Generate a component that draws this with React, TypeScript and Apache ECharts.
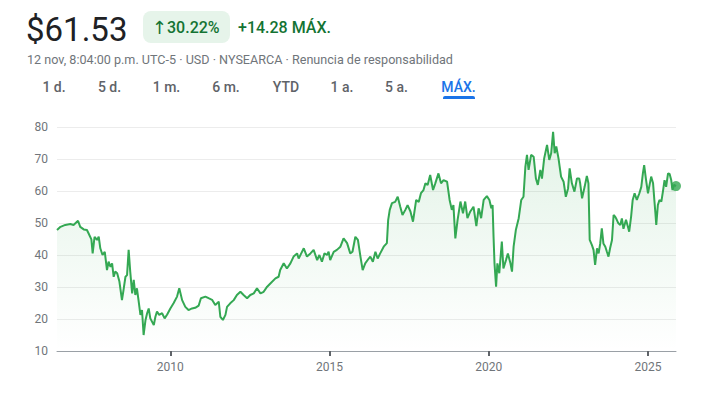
import React, { useEffect, useRef } from "react";
import * as echarts from "echarts";

// Time (decimal years) and closing prices
const years = [
  2006.44, 2006.55, 2006.7, 2006.86, 2006.96, 2007.1, 2007.17, 2007.28, 2007.38, 2007.43,
  2007.52, 2007.56, 2007.62, 2007.7, 2007.75, 2007.8, 2007.87, 2007.94, 2008.01, 2008.06,
  2008.12, 2008.17, 2008.22, 2008.27, 2008.33, 2008.4, 2008.48, 2008.53, 2008.59, 2008.64,
  2008.69, 2008.74, 2008.8, 2008.85, 2008.9, 2008.95, 2009.0, 2009.06, 2009.11, 2009.16,
  2009.22, 2009.27, 2009.32, 2009.37, 2009.48, 2009.53, 2009.58, 2009.65, 2009.74, 2009.82,
  2009.9, 2010.0, 2010.1, 2010.21, 2010.28, 2010.37, 2010.47, 2010.57, 2010.68, 2010.78,
  2010.89, 2010.96, 2011.1, 2011.2, 2011.31, 2011.41, 2011.52, 2011.57, 2011.65, 2011.73,
  2011.78, 2011.88, 2011.99, 2012.09, 2012.2, 2012.3, 2012.41, 2012.51, 2012.62, 2012.72,
  2012.83, 2012.93, 2013.04, 2013.14, 2013.3, 2013.4, 2013.45, 2013.56, 2013.66, 2013.77,
  2013.87, 2013.98, 2014.03, 2014.11, 2014.19, 2014.29, 2014.4, 2014.5, 2014.61, 2014.68,
  2014.76, 2014.84, 2014.92, 2014.97, 2015.02, 2015.13, 2015.23, 2015.34, 2015.44, 2015.55,
  2015.65, 2015.72, 2015.81, 2015.89, 2015.97, 2016.04, 2016.12, 2016.23, 2016.28, 2016.36,
  2016.44, 2016.51, 2016.59, 2016.7, 2016.8, 2016.84, 2016.89, 2016.96, 2017.06, 2017.14,
  2017.22, 2017.29, 2017.38, 2017.45, 2017.54, 2017.62, 2017.72, 2017.8, 2017.87, 2017.95,
  2018.01, 2018.08, 2018.16, 2018.25, 2018.32, 2018.42, 2018.5, 2018.58, 2018.69, 2018.77,
  2018.84, 2018.89, 2018.95, 2019.02, 2019.11, 2019.19, 2019.26, 2019.33, 2019.42, 2019.52,
  2019.61, 2019.68, 2019.7, 2019.76, 2019.84, 2019.94, 2020.02, 2020.08, 2020.12, 2020.15,
  2020.18, 2020.23, 2020.27, 2020.33, 2020.41, 2020.46, 2020.54, 2020.6, 2020.68, 2020.73,
  2020.78, 2020.85, 2020.94, 2021.02, 2021.09, 2021.15, 2021.2, 2021.25, 2021.33, 2021.41,
  2021.48, 2021.54, 2021.62, 2021.67, 2021.74, 2021.83, 2021.9, 2021.96, 2022.02, 2022.07,
  2022.12, 2022.19, 2022.27, 2022.35, 2022.42, 2022.49, 2022.54, 2022.61, 2022.69, 2022.77,
  2022.84, 2022.87, 2022.93, 2023.01, 2023.08, 2023.13, 2023.17, 2023.24, 2023.29, 2023.34,
  2023.4, 2023.45, 2023.5, 2023.55, 2023.6, 2023.66, 2023.71, 2023.76, 2023.81, 2023.87,
  2023.92, 2023.97, 2024.02, 2024.07, 2024.13, 2024.18, 2024.23, 2024.31, 2024.37, 2024.41,
  2024.47, 2024.52, 2024.58, 2024.65, 2024.73, 2024.79, 2024.84, 2024.88, 2024.94, 2025.0,
  2025.05, 2025.1, 2025.16, 2025.2, 2025.23, 2025.26, 2025.31, 2025.36, 2025.42, 2025.47,
  2025.52, 2025.57, 2025.63, 2025.68, 2025.73, 2025.77, 2025.82, 2025.88,
];

const prices = [
  47.8, 48.8, 49.4, 49.7, 49.4, 50.7, 48.8, 48.0, 47.8, 46.8,
  44.9, 40.5, 45.7, 44.7, 45.7, 42.1, 40.0, 41.0, 35.3, 37.9,
  36.3, 37.4, 33.2, 34.8, 34.3, 31.7, 25.9, 29.1, 33.2, 33.7,
  41.6, 34.8, 28.0, 32.2, 27.5, 29.6, 25.9, 21.3, 22.8, 15.0,
  19.7, 21.8, 23.3, 20.2, 18.1, 20.7, 22.3, 21.3, 21.8, 20.2,
  21.4, 23.3, 24.9, 27.0, 29.6, 25.9, 23.8, 22.8, 23.3, 23.5,
  24.2, 26.5, 27.0, 26.5, 26.0, 24.4, 25.4, 20.7, 19.7, 21.3,
  23.8, 24.9, 25.9, 27.5, 28.5, 27.5, 26.5, 27.5, 28.0, 29.6,
  28.0, 28.5, 30.1, 31.1, 32.7, 33.2, 35.3, 37.4, 35.8, 37.4,
  39.5, 40.5, 38.9, 40.5, 42.1, 39.5, 40.5, 41.6, 38.4, 40.0,
  37.9, 40.5, 40.0, 41.0, 38.4, 41.0, 41.6, 42.6, 45.2, 43.7,
  40.5, 41.0, 45.7, 44.7, 39.5, 35.3, 37.4, 38.9, 39.5, 37.9,
  41.0, 38.9, 40.5, 42.6, 43.7, 50.9, 54.1, 56.2, 56.6, 58.2,
  55.1, 52.5, 54.1, 55.6, 53.6, 50.4, 57.2, 56.6, 59.3, 60.3,
  62.4, 61.9, 65.0, 60.3, 62.4, 65.5, 62.4, 63.4, 62.9, 57.2,
  54.1, 55.6, 45.2, 50.9, 56.7, 53.0, 56.7, 51.5, 53.6, 55.1,
  49.0, 54.6, 54.1, 51.5, 57.2, 58.4, 57.2, 54.6, 55.6, 45.7,
  37.4, 30.1, 37.4, 34.3, 44.2, 35.8, 38.4, 40.5, 37.4, 34.8,
  42.6, 47.8, 51.5, 57.2, 58.2, 67.6, 71.3, 66.6, 71.3, 70.7,
  63.9, 61.9, 66.6, 63.9, 70.2, 74.4, 69.7, 71.8, 78.5, 71.8,
  73.9, 70.2, 64.5, 62.9, 58.2, 60.8, 67.1, 62.4, 59.8, 63.9,
  63.9, 62.4, 57.7, 61.3, 64.7, 62.4, 44.7, 43.1, 41.6, 36.9,
  42.1, 40.5, 43.6, 48.3, 43.6, 42.6, 41.0, 39.5, 42.1, 44.7,
  52.5, 52.0, 51.0, 49.9, 49.4, 51.4, 48.2, 51.0, 48.8, 47.3,
  52.0, 57.2, 59.3, 57.2, 59.3, 61.3, 65.5, 68.1, 63.4, 59.3,
  61.9, 64.5, 62.4, 57.2, 53.5, 49.4, 55.6, 57.2, 56.7, 59.9,
  63.4, 61.3, 65.5, 65.3, 63.4, 60.3, 61.9, 61.53,
];

const xTickYears = [2010, 2015, 2020, 2025];
const yMin = 10;
const yMax = 80;
const yStep = 10;

const priceText = "$61.53";
const changeArrow = "↑";
const changePct = "30.22%";
const changeAbs = "+14.28 MÁX.";
const subline = "12 nov, 8:04:00 p.m. UTC-5 · USD · NYSEARCA · Renuncia de responsabilidad";
const tabs = ["1 d.", "5 d.", "1 m.", "6 m.", "YTD", "1 a.", "5 a.", "MÁX."];
const activeTab = "MÁX.";

const tabCenters = [54, 109.5, 166.5, 226, 286, 342, 396.5, 458.5];

const GREEN = "#34a853";
const FONT = "Roboto, 'Noto Sans', sans-serif";

export default function App() {
  const ref = useRef<HTMLDivElement>(null);

  useEffect(() => {
    const chart = echarts.init(ref.current!, null, { renderer: "svg" });
    const data = years.map((t, i) => [t, prices[i]]);
    const last = data[data.length - 1];

    const tabEls: any[] = tabs.map((t, i) => ({
      type: "text",
      x: tabCenters[i],
      y: 87,
      style: {
        text: t,
        font: `500 14px ${FONT}`,
        fill: t === activeTab ? "#1a73e8" : "#5f6368",
        align: "center",
        verticalAlign: "middle",
      },
    }));

    chart.setOption({
      animation: false,
      backgroundColor: "#fff",
      grid: { left: 57, right: 36, top: 127, bottom: 42 },
      xAxis: {
        type: "value",
        min: years[0],
        max: years[years.length - 1],
        axisLine: { show: true, lineStyle: { color: "#9aa0a6", width: 1 } },
        axisTick: {
          show: true,
          customValues: xTickYears,
          length: 5,
          lineStyle: { color: "#5f6368", width: 2 },
        },
        axisLabel: {
          customValues: xTickYears,
          formatter: (v: number) => String(Math.round(v)),
          color: "#70757a",
          fontSize: 12,
          fontFamily: FONT,
          margin: 10,
        },
        splitLine: { show: false },
      },
      yAxis: {
        type: "value",
        min: yMin,
        max: yMax,
        interval: yStep,
        axisLine: { show: false },
        axisTick: { show: false },
        axisLabel: { color: "#70757a", fontSize: 12, fontFamily: FONT, margin: 9 },
        splitLine: { lineStyle: { color: "#ececec", width: 1 } },
      },
      series: [
        {
          type: "line",
          data,
          showSymbol: false,
          symbol: "none",
          lineStyle: { color: GREEN, width: 2 },
          areaStyle: {
            origin: "start",
            color: new echarts.graphic.LinearGradient(0, 0, 0, 1, [
              { offset: 0, color: "rgba(52,168,83,0.20)" },
              { offset: 1, color: "rgba(52,168,83,0.0)" },
            ]),
          },
          silent: true,
        },
        {
          type: "scatter",
          data: [last],
          symbol: "circle",
          symbolSize: 10,
          itemStyle: { color: GREEN },
          silent: true,
        },
      ],
      graphic: [
        {
          type: "text",
          x: 26,
          y: 29,
          style: { text: priceText, font: `33px ${FONT}`, fill: "#202124", verticalAlign: "middle" },
        },
        {
          type: "rect",
          shape: { x: 143, y: 11, width: 87, height: 32, r: 8 },
          style: { fill: "#e6f4ea" },
        },
        {
          type: "text",
          x: 152,
          y: 27,
          style: { text: changeArrow, font: `18px 'DejaVu Sans', sans-serif`, fill: "#137333", verticalAlign: "middle" },
        },
        {
          type: "text",
          x: 167,
          y: 27,
          style: { text: changePct, font: `500 16px ${FONT}`, fill: "#137333", verticalAlign: "middle" },
        },
        {
          type: "text",
          x: 238,
          y: 27,
          style: { text: changeAbs, font: `500 16px ${FONT}`, fill: "#137333", verticalAlign: "middle" },
        },
        {
          type: "text",
          x: 27,
          y: 59,
          style: { text: subline, font: `12.6px ${FONT}`, fill: "#70757a", verticalAlign: "middle" },
        },
        ...tabEls,
        {
          type: "rect",
          shape: { x: 443, y: 96, width: 32, height: 3, r: [2, 2, 0, 0] },
          style: { fill: "#1a73e8" },
        },
      ],
    });

    return () => chart.dispose();
  }, []);

  return (
    <div
      ref={ref}
      style={{ position: "fixed", left: 0, top: 0, width: 712, height: 393, background: "#fff" }}
    />
  );
}
